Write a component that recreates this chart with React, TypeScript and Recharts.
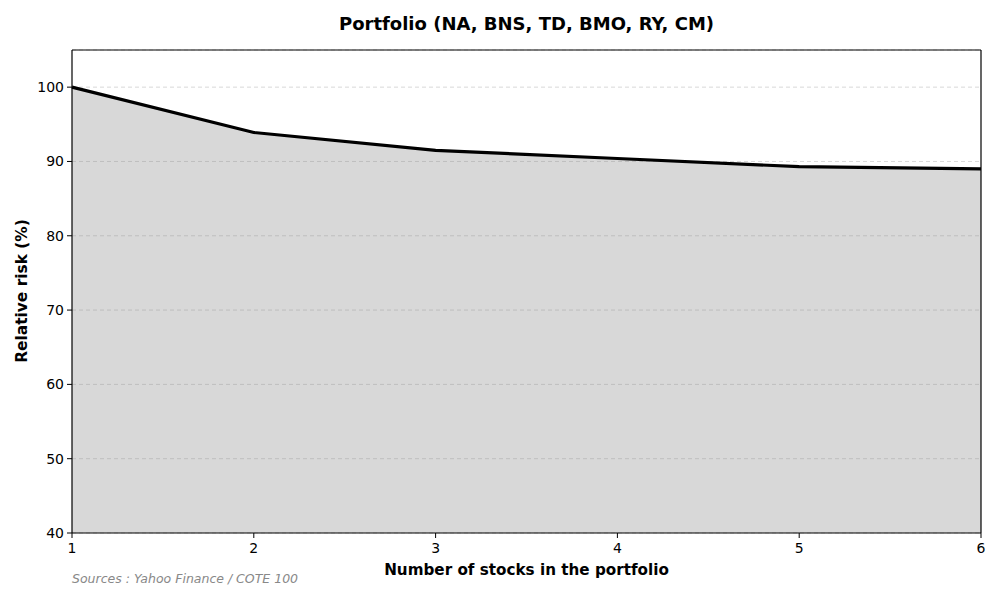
import React from 'react';
import {
  Area,
  AreaChart,
  CartesianGrid,
  ReferenceLine,
  XAxis,
  YAxis,
} from 'recharts';

const stockCounts = [1, 2, 3, 4, 5, 6];
const relativeRisk = [100, 93.9, 91.5, 90.4, 89.3, 89.0];
const yTicks = [40, 50, 60, 70, 80, 90, 100];

const data = stockCounts.map((n, i) => ({ n, risk: relativeRisk[i] }));

const font = '"DejaVu Sans", sans-serif';
const tickStyle = { fontSize: 14, fill: '#000', fontFamily: font };

const App: React.FC = () => {
  return (
    <div
      style={{
        position: 'absolute',
        left: 0,
        top: 0,
        width: 1000,
        height: 600,
        background: '#fff',
        fontFamily: font,
      }}
    >
      <AreaChart
        width={1000}
        height={600}
        data={data}
        margin={{ top: 50, right: 19, bottom: 37, left: 32 }}
      >
        <CartesianGrid
          vertical={false}
          stroke="#d9d9d9"
          strokeDasharray="4 3"
        />
        <XAxis
          dataKey="n"
          type="number"
          domain={[1, 6]}
          ticks={stockCounts}
          height={30}
          tick={tickStyle}
          tickSize={5}
          tickMargin={5}
          axisLine={{ stroke: '#000', strokeWidth: 1.2 }}
          tickLine={{ stroke: '#000' }}
        />
        <YAxis
          type="number"
          domain={[40, 105]}
          ticks={yTicks}
          width={40}
          tick={tickStyle}
          tickSize={5}
          tickMargin={3}
          axisLine={{ stroke: '#000', strokeWidth: 1.2 }}
          tickLine={{ stroke: '#000' }}
          allowDataOverflow
        />
        <Area
          type="linear"
          dataKey="risk"
          stroke="#000"
          strokeWidth={3.2}
          fill="#888888"
          fillOpacity={0.33}
          isAnimationActive={false}
        />
        <ReferenceLine y={105} stroke="#000" strokeWidth={1.2} />
        <ReferenceLine x={6} stroke="#000" strokeWidth={1.2} />
      </AreaChart>

      <div
        style={{
          position: 'absolute',
          left: 72,
          width: 909,
          top: 13,
          textAlign: 'center',
          fontSize: 18,
          fontWeight: 'bold',
        }}
      >
        Portfolio (NA, BNS, TD, BMO, RY, CM)
      </div>
      <div
        style={{
          position: 'absolute',
          left: 72,
          width: 909,
          top: 561,
          textAlign: 'center',
          fontSize: 15.2,
          fontWeight: 'bold',
        }}
      >
        Number of stocks in the portfolio
      </div>
      <div
        style={{
          position: 'absolute',
          left: 22,
          top: 291,
          transform: 'translate(-50%, -50%) rotate(-90deg)',
          whiteSpace: 'nowrap',
          fontSize: 15.4,
          fontWeight: 'bold',
        }}
      >
        Relative risk (%)
      </div>
      <div
        style={{
          position: 'absolute',
          left: 72,
          top: 571,
          fontSize: 12.5,
          fontStyle: 'italic',
          color: '#888',
        }}
      >
        Sources : Yahoo Finance / COTE 100
      </div>
    </div>
  );
};

export default App;
